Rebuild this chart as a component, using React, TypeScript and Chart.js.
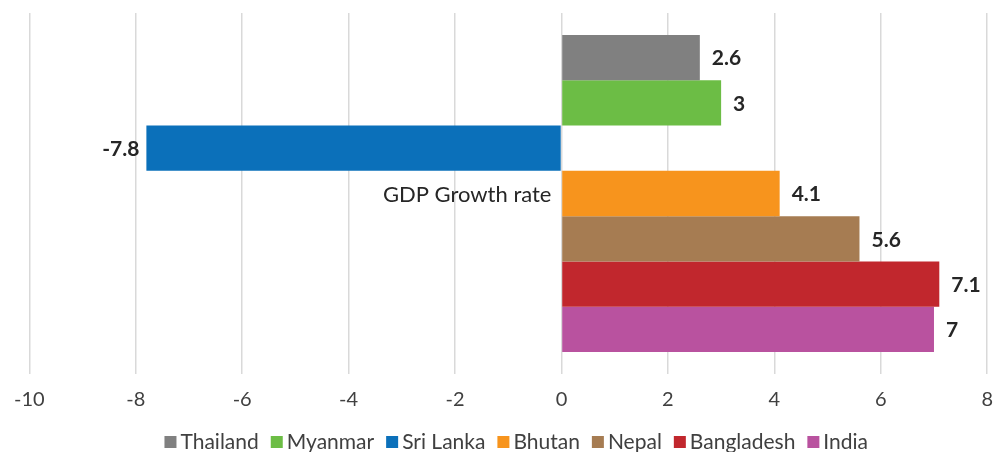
import React, { useEffect, useRef } from "react";
import { Chart, registerables } from "chart.js";

Chart.register(...registerables);

const categories = ["GDP Growth rate"];
const countries = ["Thailand", "Myanmar", "Sri Lanka", "Bhutan", "Nepal", "Bangladesh", "India"];
const growthValues = [2.6, 3, -7.8, 4.1, 5.6, 7.1, 7];
const barColors = ["#808080", "#6cbd45", "#0b70ba", "#f7941d", "#a67c52", "#c1272d", "#b9529f"];
const xMin = -10;
const xMax = 8;
const xStep = 2;

const FONT = "Lato, 'Open Sans', sans-serif";

const dataLabelPlugin = {
  id: "dataLabels",
  afterDatasetsDraw(chart: any) {
    const ctx = chart.ctx;
    ctx.save();
    ctx.font = `bold 21px ${FONT}`;
    ctx.fillStyle = "#262626";
    ctx.textBaseline = "middle";
    chart.data.datasets.forEach((ds: any, i: number) => {
      const meta = chart.getDatasetMeta(i);
      meta.data.forEach((bar: any, j: number) => {
        const v = ds.data[j];
        const txt = String(v);
        if (v >= 0) {
          ctx.textAlign = "left";
          ctx.fillText(txt, bar.x + 12, bar.y + 1);
        } else {
          ctx.textAlign = "right";
          ctx.fillText(txt, bar.x - 7, bar.y + 1);
        }
      });
    });
    ctx.restore();
  },
};

const categoryLabelPlugin = {
  id: "categoryLabel",
  afterDatasetsDraw(chart: any) {
    const ctx = chart.ctx;
    const xs = chart.scales.x;
    const ys = chart.scales.y;
    ctx.save();
    ctx.font = `22px ${FONT}`;
    ctx.fillStyle = "#262626";
    ctx.textAlign = "right";
    ctx.textBaseline = "middle";
    categories.forEach((c, i) => {
      ctx.fillText(c, xs.getPixelForValue(0) - 10, ys.getPixelForValue(i) + 1);
    });
    ctx.restore();
  },
};

const customLegendPlugin = {
  id: "customLegend",
  afterDraw(chart: any) {
    const ctx = chart.ctx;
    const box = 12;
    const gap = 4;
    const spacing = 12;
    ctx.save();
    ctx.font = `21px ${FONT}`;
    ctx.textBaseline = "middle";
    ctx.textAlign = "left";
    const widths = countries.map((c) => box + gap + ctx.measureText(c).width);
    const total = widths.reduce((a, b) => a + b, 0) + spacing * (countries.length - 1);
    const area = chart.chartArea;
    let x = (area.left + area.right) / 2 - total / 2 + 8;
    const y = 442;
    countries.forEach((c, i) => {
      ctx.fillStyle = barColors[i];
      ctx.fillRect(x, y - box / 2, box, box);
      ctx.fillStyle = "#404040";
      ctx.fillText(c, x + box + gap, y);
      x += widths[i] + spacing;
    });
    ctx.restore();
  },
};

export default function App() {
  const ref = useRef<HTMLCanvasElement>(null);
  useEffect(() => {
    if (!ref.current) return;
    const chart = new Chart(ref.current, {
      type: "bar",
      data: {
        labels: categories,
        datasets: countries.map((c, i) => ({
          label: c,
          data: [growthValues[i]],
          backgroundColor: barColors[i],
          borderWidth: 0,
          categoryPercentage: 0.878,
          barPercentage: 1,
        })),
      },
      options: {
        indexAxis: "y",
        animation: false,
        responsive: false,
        devicePixelRatio: 1,
        layout: { padding: { left: 28, right: 19, top: 13, bottom: 30 } },
        plugins: {
          legend: { display: false },
          tooltip: { enabled: false },
        },
        scales: {
          x: {
            type: "linear",
            min: xMin,
            max: xMax,
            ticks: {
              stepSize: xStep,
              color: "#404040",
              font: { family: FONT, size: 20 },
              padding: 14,
            },
            grid: { color: "#d9d9d9", lineWidth: 1.5, drawTicks: false },
            border: { display: false },
            afterFit: (s: any) => {
              s.height = 48;
            },
          },
          y: {
            position: { x: 0 } as any,
            ticks: { display: false },
            grid: { display: false, drawTicks: false },
            border: { display: false },
          },
        },
      },
      plugins: [dataLabelPlugin, categoryLabelPlugin, customLegendPlugin],
    } as any);
    return () => chart.destroy();
  }, []);
  return (
    <div style={{ position: "fixed", left: 0, top: 0, width: 1007, height: 452, background: "#fff" }}>
      <canvas ref={ref} width={1007} height={452} />
    </div>
  );
}
